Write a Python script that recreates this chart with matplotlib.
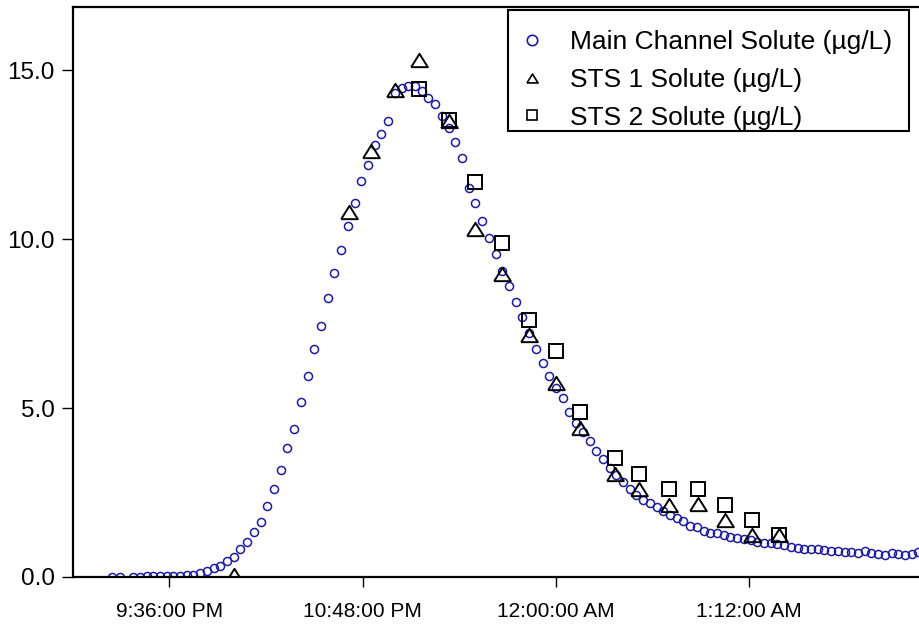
import numpy as np
import pandas as pd
import matplotlib
matplotlib.use("Agg")
import matplotlib.pyplot as plt
import matplotlib.dates as mdates
from matplotlib.lines import Line2D
from matplotlib.patches import Rectangle

plt.rcParams['font.family'] = ['Liberation Sans', 'DejaVu Sans']

# main channel, sampled every 2.5 min (plus two early samples)
main_times_early = ["2000-01-01 21:14:30", "2000-01-01 21:17:30"]
main_early = [0.01, 0.01]
main_start = "2000-01-01 21:22:30"
main_vals = [
    0.01, 0.01, 0.02, 0.02, 0.02, 0.03, 0.04, 0.04, 0.05, 0.07,
    0.13, 0.19, 0.26, 0.33, 0.47, 0.58, 0.82, 1.03, 1.34, 1.63,
    2.10, 2.59, 3.17, 3.82, 4.37, 5.19, 5.95, 6.75, 7.43, 8.26,
    8.99, 9.67, 10.40, 11.06, 11.72, 12.18, 12.78, 13.10, 13.49, 14.31,
    14.48, 14.53, 14.53, 14.39, 14.19, 13.99, 13.64, 13.30, 12.88, 12.41,
    11.50, 11.06, 10.53, 10.02, 9.55, 9.06, 8.61, 8.14, 7.68, 7.23,
    6.75, 6.34, 5.95, 5.59, 5.31, 4.87, 4.55, 4.30, 4.03, 3.74,
    3.49, 3.22, 3.02, 2.80, 2.59, 2.43, 2.28, 2.18, 2.08, 1.95,
    1.83, 1.75, 1.66, 1.52, 1.49, 1.36, 1.31, 1.29, 1.25, 1.19,
    1.15, 1.11, 1.09, 1.04, 1.01, 1.00, 0.98, 0.94, 0.88, 0.85,
    0.83, 0.82, 0.82, 0.80, 0.78, 0.77, 0.75, 0.73, 0.72, 0.77,
    0.70, 0.68, 0.65, 0.72, 0.67, 0.65, 0.67, 0.75,
]

sts_times = [
    "2000-01-01 22:00", "2000-01-01 22:43", "2000-01-01 22:51", "2000-01-01 23:00",
    "2000-01-01 23:09", "2000-01-01 23:20", "2000-01-01 23:30", "2000-01-01 23:40",
    "2000-01-01 23:50", "2000-01-02 00:00", "2000-01-02 00:09", "2000-01-02 00:22",
    "2000-01-02 00:31", "2000-01-02 00:42", "2000-01-02 00:53", "2000-01-02 01:03",
    "2000-01-02 01:13", "2000-01-02 01:23",
]
sts1_vals = [0.07, 10.8, 12.6, 14.4, 15.3, 13.5, 10.3, 8.96, 7.16, 5.75,
             4.40, 3.05, 2.60, 2.13, 2.15, 1.69, 1.24, 1.24]
sts2_times = sts_times[4:]
sts2_vals = [14.43, 13.52, 11.70, 9.87, 7.60, 6.69, 4.87, 3.51, 3.05,
             2.59, 2.59, 2.13, 1.69, 1.24]

xticks = ["2000-01-01 21:36", "2000-01-01 22:48", "2000-01-02 00:00", "2000-01-02 01:12"]
yticks = [0, 5, 10, 15]
labels = ["Main Channel Solute (\u00b5g/L)", "STS 1 Solute (\u00b5g/L)", "STS 2 Solute (\u00b5g/L)"]

main_t = pd.to_datetime(main_times_early).append(
    pd.date_range(main_start, periods=len(main_vals), freq="150s"))
main_y = main_early + main_vals

fig = plt.figure(figsize=(9.2, 6.26), dpi=100)
ax = fig.add_axes([0.079, 0.0783, 0.921, 0.9100])

navy = "#1c1c9c"
tri = [(-1, -0.8), (1, -0.8), (0, 0.8), (-1, -0.8)]
ax.plot(main_t, main_y, ls="none", marker="o", ms=5.8, mfc="none", mec=navy, mew=1.1)
ax.plot(pd.to_datetime(sts_times), sts1_vals, ls="none", marker=tri, ms=12,
        mfc="none", mec="black", mew=1.4)
ax.plot(pd.to_datetime(sts2_times), sts2_vals, ls="none", marker="s", ms=10,
        mfc="none", mec="black", mew=1.4)

ax.set_xlim(pd.Timestamp("2000-01-01 21:00"), pd.Timestamp("2000-01-02 02:15:36"))
ax.set_ylim(0, 16.86)
ax.set_xticks(pd.to_datetime(xticks))
ax.xaxis.set_major_formatter(
    plt.FuncFormatter(lambda v, p: mdates.num2date(v).strftime("%I:%M:%S %p").lstrip("0")))
ax.set_yticks(yticks)
ax.yaxis.set_major_formatter(plt.FuncFormatter(lambda v, p: "%.1f" % v))

for s in ["left", "bottom", "top"]:
    ax.spines[s].set_linewidth(1.6)
ax.spines["right"].set_visible(False)
ax.tick_params(axis="x", length=7, width=1, pad=11, labelsize=15)
ax.tick_params(axis="y", length=8, width=1, pad=5, labelsize=17.5)

# legend box drawn separately, entries placed inside it
ax.add_patch(Rectangle((0.5138, 0.7829), 0.987 - 0.5138, 0.9953 - 0.7829,
                       transform=ax.transAxes, fill=False, ec="black", lw=1.5,
                       zorder=5, clip_on=False))
handles = [
    Line2D([], [], ls="none", marker="o", ms=7.5, mfc="none", mec=navy, mew=1.2),
    Line2D([], [], ls="none", marker=tri, ms=8, mfc="none", mec="black", mew=1.2),
    Line2D([], [], ls="none", marker="s", ms=7, mfc="none", mec="black", mew=1.2),
]
leg = ax.legend(handles, labels, loc="upper left", bbox_to_anchor=(0.5265, 0.960),
                borderaxespad=0, fontsize=19, frameon=False, borderpad=0,
                handlelength=1.0, handletextpad=0.94, labelspacing=0.52)

fig.savefig("out.png", dpi=100)
